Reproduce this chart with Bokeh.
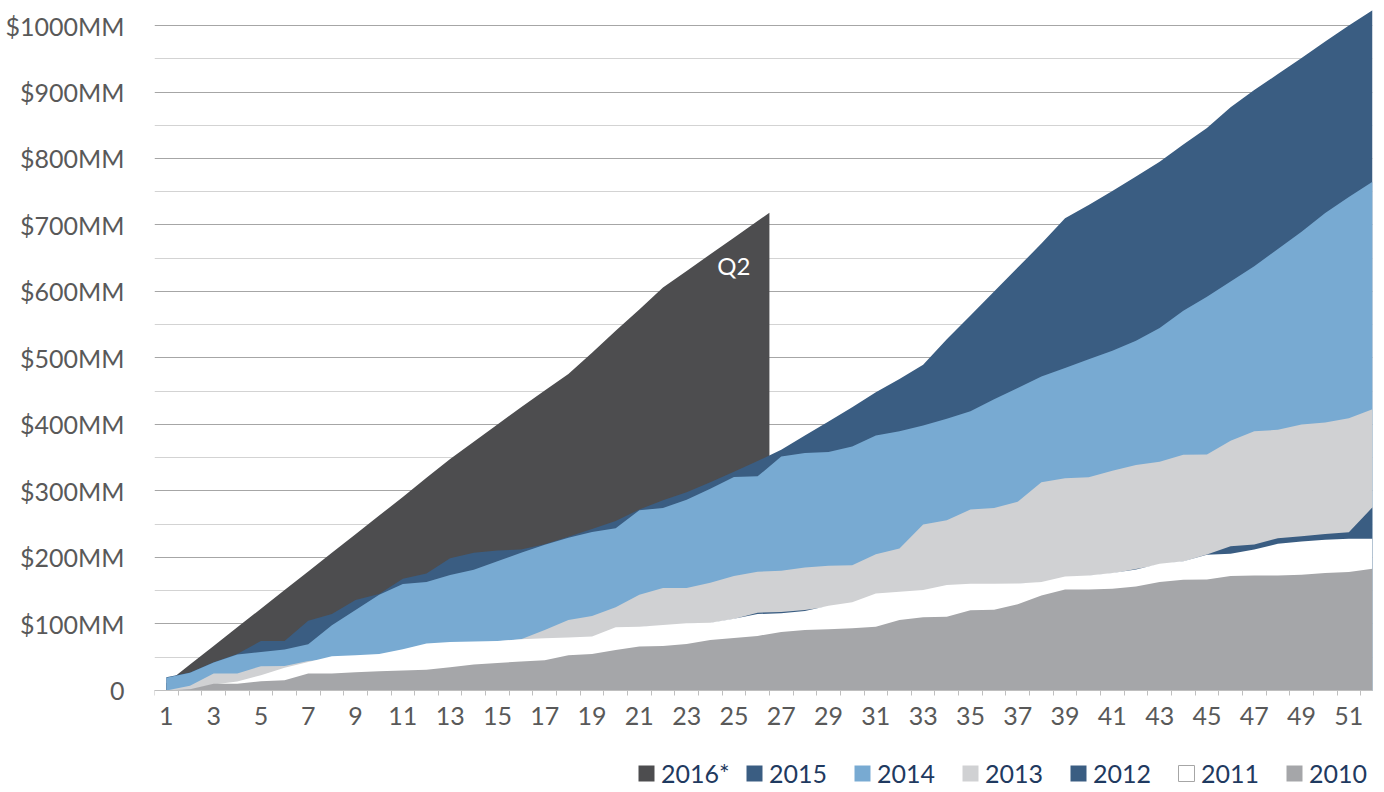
from bokeh.plotting import figure
from bokeh.models import Range1d, FixedTicker, Legend, LegendItem
from bokeh.core.properties import value
from bokeh.embed import file_html
from bokeh.resources import INLINE

# ---- data ($MM, cumulative by week) ----
weeks = list(range(1, 53))

v2010 = [0, 2, 10, 10, 14, 15.5, 25.5, 25.5, 27.5, 29,
         30, 31, 35, 39, 41.5, 43.5, 45.5, 53, 55, 61,
         66, 67, 70, 76, 79, 82, 88, 91, 92, 93.5,
         96, 106, 110, 111, 120.5, 121.5, 129.5, 143, 152, 152,
         153, 156.5, 163, 166.5, 167, 172, 173, 173, 174, 176.5,
         178, 183]
v2011 = [0, 1, 9, 13.5, 23, 34, 43, 51.5, 53, 55,
         62, 70.5, 73, 73.5, 74.5, 77, 78.5, 79.5, 81, 95,
         96, 98.5, 101, 102, 108, 115, 116, 119.5, 127.5, 132.5,
         146, 148.5, 151, 158.5, 160.5, 160.5, 161, 163, 171.5, 173,
         176.5, 182, 190.5, 194.5, 204, 205.5, 212, 220.5, 224, 226.5,
         228, 228]
v2012 = [0, 1, 8, 12, 21, 32, 41, 49, 51, 53,
         60, 68, 71, 72, 73, 75, 77, 78, 80, 93,
         95, 97, 100, 101, 107.5, 117, 118, 121, 126, 131,
         144, 147, 150, 157, 159, 159.5, 160, 162, 170, 172,
         176, 182.5, 189, 194, 204.5, 217, 219.5, 229, 232, 235.5,
         238, 275.5]
v2013 = [0, 7, 25.5, 25.5, 36.5, 37, 44.5, 47, 50, 53,
         58, 64, 68, 71, 74, 77, 91, 106, 112, 125,
         144, 154, 154, 162, 172, 178.5, 180, 185, 187.5, 188.5,
         205, 213.5, 249.5, 256, 272, 274.5, 284, 313, 319, 320.5,
         330.5, 339, 344, 354.5, 355, 375.5, 390, 392, 400, 403,
         409.5, 423]
v2014 = [19, 26.5, 42, 54, 58, 61.5, 69.5, 98, 121, 144,
         160, 163, 173.5, 181.5, 194.5, 207, 219, 229.5, 238.5, 244,
         271, 274.5, 287, 303.5, 321, 322, 352, 357, 358.5, 367,
         383.5, 390, 398.5, 408.5, 420, 438, 455, 472, 485, 498,
         511, 526, 545, 571, 592, 615, 638, 664, 690, 718,
         742, 765]
v2015 = [20, 27, 42.5, 55, 74.5, 74.5, 105, 115, 136, 145,
         168, 176, 199, 207, 210.5, 212, 220, 231, 243, 255,
         272, 286, 298, 313, 329, 345, 362, 383.5, 404.5, 426,
         448.5, 468.5, 490, 528, 564, 600, 636, 672, 710, 730,
         751, 773, 795, 821, 846, 877, 903, 927, 951, 976,
         1000, 1023]
v2016 = [11, 39, 67, 95, 123, 151, 179, 207, 235, 263,
         291, 320, 348, 374, 400, 426, 451, 476, 508, 541,
         573, 606, 631, 656, 681, 706]

series_names = ["2016*", "2015", "2014", "2013", "2012", "2011", "2010"]
y_ticks = [0, 100, 200, 300, 400, 500, 600, 700, 800, 900, 1000]
y_tick_labels = ["0", "$100MM", "$200MM", "$300MM", "$400MM", "$500MM",
                 "$600MM", "$700MM", "$800MM", "$900MM", "$1000MM"]
x_tick_weeks = weeks[::2]
note_text = "Q2"

colors = {
    "2016*": "#4d4d4f",
    "2015": "#3a5d82",
    "2014": "#78aad2",
    "2013": "#d0d1d3",
    "2012": "#3a5d82",
    "2011": "#ffffff",
    "2010": "#a5a6a9",
}

FONT = "Lato"

# the frame reaches down to the legend; the x axis sits at value 0
p = figure(width=1376, height=788,
           x_range=Range1d(0.5, 52), y_range=Range1d(-147.4, 1037.6),
           output_backend="svg", toolbar_location=None,
           min_border_left=154, min_border_right=4,
           min_border_top=0, min_border_bottom=0)
p.outline_line_color = None
p.background_fill_color = "white"
p.border_fill_color = "white"

# 2016 partial year: the area ends half a category after its last week
x16 = weeks[:len(v2016)] + [len(v2016) + 0.5]
y16 = v2016 + [v2016[-1] + 0.5 * (v2016[-1] - v2016[-2])]

series = [
    ("2016*", x16, y16),
    ("2015", weeks, v2015),
    ("2014", weeks, v2014),
    ("2013", weeks, v2013),
    ("2012", weeks, v2012),
    ("2011", weeks, v2011),
    ("2010", weeks, v2010),
]
area_renderers = {}
for name, xs, ys in series:
    area_renderers[name] = p.varea(x=xs, y1=[0] * len(xs), y2=ys,
                                   fill_color=colors[name], fill_alpha=1.0)

p.text(x=[25.0], y=[639], text=[note_text], text_color="white",
       text_font=value(FONT), text_font_size="24px",
       text_align="center", text_baseline="middle")

# y axis
yt = FixedTicker(ticks=y_ticks, minor_ticks=[t + 50 for t in y_ticks[:-1]])
p.yaxis.ticker = yt
p.ygrid.ticker = yt
p.yaxis.major_label_overrides = dict(zip(y_ticks, y_tick_labels))
p.yaxis.axis_line_color = None
p.yaxis.major_tick_line_color = None
p.yaxis.minor_tick_line_color = None
p.yaxis.major_tick_out = 0
p.yaxis.major_tick_in = 0
p.yaxis.major_label_standoff = 26
p.yaxis.major_label_text_font = FONT
p.yaxis.major_label_text_font_size = "25px"
p.yaxis.major_label_text_color = "#595959"
p.ygrid.grid_line_color = "#a6a6a6"
p.ygrid.minor_grid_line_color = "#d3d3d3"
p.xgrid.visible = False

# x axis, drawn at value 0
xt = FixedTicker(ticks=x_tick_weeks, minor_ticks=[w + 0.5 for w in [0] + weeks[:-1]])
p.xaxis.ticker = xt
p.xaxis.fixed_location = 0
p.xaxis.major_label_overrides = {w: str(w) for w in x_tick_weeks}
p.xaxis.axis_line_color = "#bfbfbf"
p.xaxis.major_tick_line_color = None
p.xaxis.major_tick_out = 0
p.xaxis.major_tick_in = 0
p.xaxis.minor_tick_line_color = "#bfbfbf"
p.xaxis.minor_tick_out = 5
p.xaxis.minor_tick_in = 0
p.xaxis.major_label_standoff = 12
p.xaxis.major_label_text_font = FONT
p.xaxis.major_label_text_font_size = "25px"
p.xaxis.major_label_text_color = "#595959"

# legend: the areas themselves, plus an outline swatch for the white series
# (a zero-size quad at the series' first point, which only shows in the legend)
outline_2011 = p.quad(left=weeks[:1], right=weeks[:1], bottom=v2011[:1], top=v2011[:1],
                      fill_alpha=0, line_color="#a6a6a6", line_width=1)
items = []
for name in series_names:
    rs = [area_renderers[name]]
    if name == "2011":
        rs.append(outline_2011)
    items.append(LegendItem(label=name, renderers=rs))
legend = Legend(items=items, orientation="horizontal", location=(482, 0),
                glyph_width=20, glyph_height=20, label_standoff=5,
                label_width=69, spacing=14, padding=0, margin=0,
                border_line_color=None, background_fill_alpha=0,
                label_text_font=FONT, label_text_font_size="25px",
                label_text_color="#1f3a60")
p.add_layout(legend)

open("out.html", "w").write(file_html(p, INLINE))
